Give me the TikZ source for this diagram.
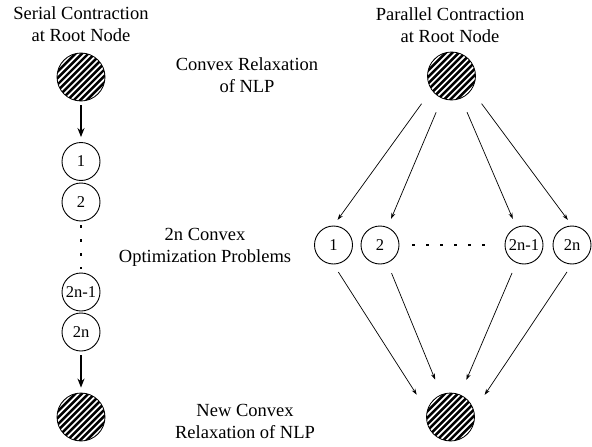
\documentclass[tikz,border=0pt]{standalone}
\usepackage{fontspec}
\setmainfont{Liberation Serif}
\usetikzlibrary{arrows.meta,calc}

\tikzset{
  hatched/.style={circle, draw, fill=black, minimum size=48pt, inner sep=0pt, line width=0.8pt,
    path picture={\foreach \k in {-9,...,9}
      \draw[white, line width=1.7pt] ($(path picture bounding box.center)+(\k*3.2pt,-\k*3.2pt)+(-40pt,-40pt)$) -- ++(80pt,80pt);}},
  prob/.style={circle, draw, minimum size=38pt, inner sep=0pt, line width=0.9pt,
    font=\fontsize{16.5}{18}\selectfont},
  lbl/.style={align=center, font=\fontsize{18.5}{22}\selectfont},
  thinarrow/.style={-{Stealth[length=6pt,width=4pt]}, line width=0.7pt},
  thickarrow/.style={-{Stealth[length=9pt,width=7pt]}, line width=1.6pt},
  dotrow/.style={line width=2.5pt, dash pattern=on 2.5pt off 11.5pt}
}

\begin{document}
\begin{tikzpicture}[x=1pt, y=-1pt]
    \useasboundingbox (0,0) rectangle (592,447);

    % Serial contraction (left column)
    \node[lbl] (serial) at (81,24) {Serial Contraction\\at Root Node};
    \node[hatched] (ltop) at (81,77) {};
    \node[prob] (s1) at (81,161.5) {1};
    \node[prob] (s2) at (81,202) {2};
    \node[prob] (s2n1) at (81,292) {2n-1};
    \node[prob] (s2n) at (81,332) {2n};
    \node[hatched] (lbot) at (81,417) {};
    \draw[thickarrow, shorten <=4pt, shorten >=5pt] (ltop) -- (s1);
    \draw[dotrow, shorten <=3.75pt, shorten >=3.75pt] (s2) -- (s2n1);
    \draw[thickarrow, shorten <=4pt, shorten >=5pt] (s2n) -- (lbot);

    % Middle labels
    \node[lbl] (relax) at (247,75) {Convex Relaxation\\of NLP};
    \node[lbl] (probs) at (205,247) {2n Convex\\Optimization Problems};
    \node[lbl] (newrelax) at (245,421) {New Convex\\Relaxation of NLP};

    % Parallel contraction (right)
    \node[lbl] (parallel) at (450,25) {Parallel Contraction\\at Root Node};
    \node[hatched] (ptop) at (451.5,76) {};
    \node[prob] (r1) at (333.5,245) {1};
    \node[prob] (r2) at (380,245) {2};
    \node[prob] (r2n1) at (524,245) {2n-1};
    \node[prob] (r2n) at (572,245) {2n};
    \node[hatched] (pbot) at (450.5,417) {};
    \draw[dotrow, shorten <=12.75pt, shorten >=12.75pt] (r2) -- (r2n1);

    % fan out
    \draw[thinarrow, shorten <=17pt, shorten >=7pt] (ptop.215) -- (r1.north);
    \draw[thinarrow, shorten <=15pt, shorten >=9pt] (ptop) -- (r2);
    \draw[thinarrow, shorten <=15pt, shorten >=9pt] (ptop) -- (r2n1);
    \draw[thinarrow, shorten <=17pt, shorten >=7pt] (ptop.325) -- (r2n.north);

    % fan in
    \draw[thinarrow, shorten <=9pt, shorten >=19pt] (r1.south) -- (pbot.165);
    \draw[thinarrow, shorten <=11pt, shorten >=16pt] (r2) -- (pbot);
    \draw[thinarrow, shorten <=11pt, shorten >=16pt] (r2n1) -- (pbot);
    \draw[thinarrow, shorten <=9pt, shorten >=19pt] (r2n.south) -- (pbot.15);
\end{tikzpicture}
\end{document}
